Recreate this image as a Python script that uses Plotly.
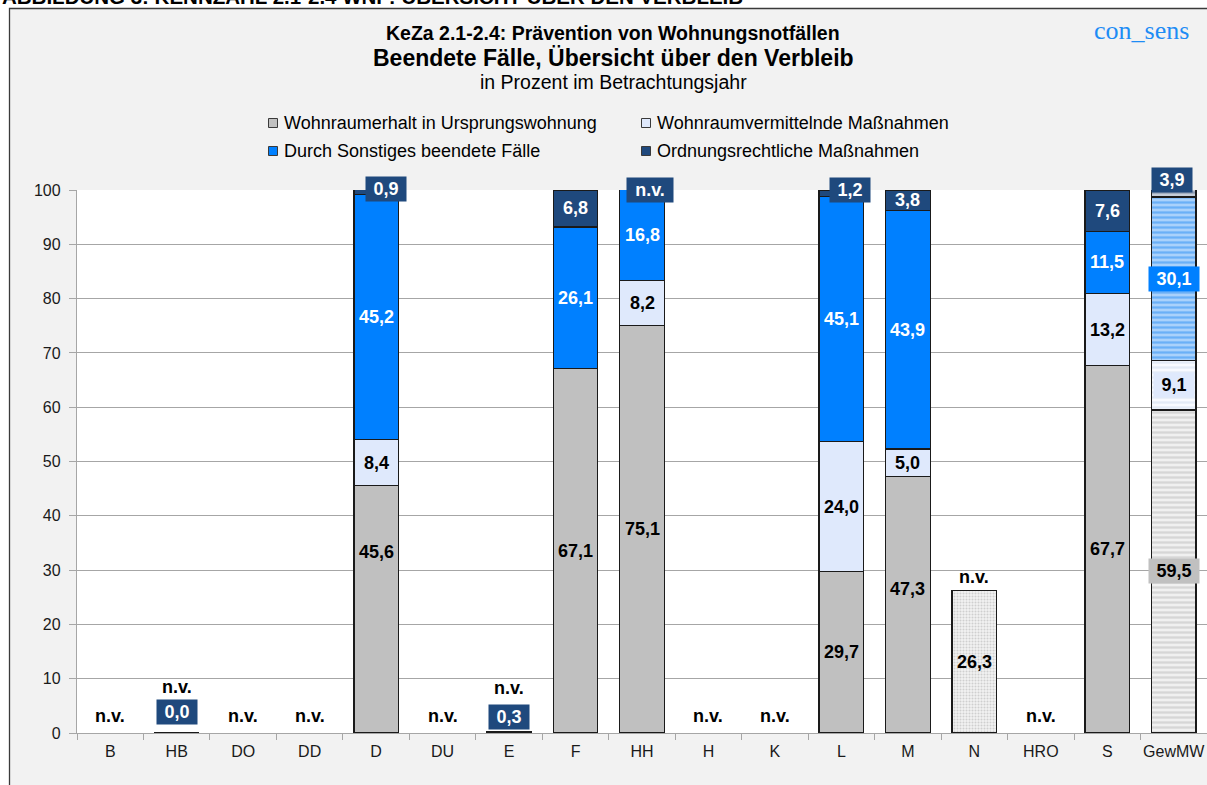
import plotly.graph_objects as go

# ---------------- data ----------------
categories = ["B", "HB", "DO", "DD", "D", "DU", "E", "F", "HH", "H", "K",
              "L", "M", "N", "HRO", "S", "GewMW"]
series_names = ["Wohnraumerhalt in Ursprungswohnung",
                "Wohnraumvermittelnde Maßnahmen",
                "Durch Sonstiges beendete Fälle",
                "Ordnungsrechtliche Maßnahmen"]
erhalt      = [None, None, None, None, 45.6, None, None, 67.1, 75.1, None, None, 29.7, 47.3, 26.3, None, 67.7, 59.5]
vermittelnd = [None, None, None, None, 8.4,  None, None, None, 8.2,  None, None, 24.0, 5.0,  None, None, 13.2, 9.1]
sonstiges   = [None, None, None, None, 45.2, None, None, 26.1, 16.8, None, None, 45.1, 43.9, None, None, 11.5, 30.1]
ordnung     = [None, 0.0,  None, None, 0.9,  None, 0.3,  6.8,  None, None, None, 1.2,  3.8,  None, None, 7.6,  3.9]
series_values = [erhalt, vermittelnd, sonstiges, ordnung]
nv_categories = ["B", "HB", "DO", "DD", "DU", "E", "H", "K", "N", "HRO"]
nv_box = [("HH", 3)]          # "n.v." shown as a box label for a series

# ---------------- styles ----------------
FONT = "Liberation Sans, Arial, sans-serif"
colors = ["#c0c0c0", "#dfe9fc", "#0080ff", "#1f497d"]
text_colors = ["#000000", "#000000", "#ffffff", "#ffffff"]
pattern_special = {
    "GewMW": dict(shape="-", size=5, solidity=0.45,
                  bg=["#f0f0f0", "#f8faff", "#a9d1fb", "#c4ccd8"],
                  fg=["#d6d6d6", "#e3eaf6", "#6ab0f7", "#8e9cb2"]),
    "N": dict(shape=".", size=3, solidity=0.35,
              bg=["#f2f2f2"] * 4, fg=["#cfcfcf"] * 4),
}
# manual label placement (y in axis units, x shift in px)
label_place = {
    ("D", 0): (33.3, 0), ("M", 0): (26.6, 0),
    ("D", 3): (100.2, 10), ("L", 3): (100.0, 9), ("GewMW", 3): (101.8, -2),
    ("HB", 3): (3.9, 0), ("E", 3): (2.9, 0), ("HH", 3): (100.0, 8),
}
boxed = {("D", 3), ("L", 3), ("GewMW", 3), ("HB", 3), ("E", 3), ("HH", 3),
         ("GewMW", 0), ("GewMW", 1), ("GewMW", 2)}
nv_place = {"HB": 8.5, "E": 8.3, "N": 28.7}
NV_DEFAULT = 3.1
Y_RANGE = (0, 100)
# legend layout (pixel positions of marker centres)
legend_slots = [(273, 123), (646, 123), (273, 151), (646, 151)]

L_M, R_M, T_M, B_M = 77, 0, 190, 52
W, H = 1207, 785
PW, PH = W - L_M - R_M, H - T_M - B_M


def px_x(px):
    return (px - L_M) / PW


def px_y(py):
    return (H - B_M - py) / PH


def val_to_paper(v):
    return (v - Y_RANGE[0]) / (Y_RANGE[1] - Y_RANGE[0])


def fmt(v):
    return f"{v:.1f}".replace(".", ",")


EM = {",": .278, ".": .278, "n": .611, "v": .556}


def box_width(t, size=18):
    return sum(EM.get(ch, .556) for ch in t) * size + 11


fig = go.Figure()
special = set(pattern_special)

# main solid traces
for s, (name, vals) in enumerate(zip(series_names, series_values)):
    y = [v if c not in special else None for c, v in zip(categories, vals)]
    fig.add_trace(go.Bar(
        x=categories, y=y, name=name, showlegend=False,
        marker=dict(color=colors[s], line=dict(color="#1a1a1a", width=1.3)),
        hoverinfo="skip"))

# patterned traces for special categories
for cat, p in pattern_special.items():
    for s, (name, vals) in enumerate(zip(series_names, series_values)):
        y = [v if c == cat else None for c, v in zip(categories, vals)]
        if all(v is None for v in y):
            continue
        fig.add_trace(go.Bar(
            x=categories, y=y, name=name, showlegend=False,
            marker=dict(color=p["bg"][s], line=dict(color="#1a1a1a", width=1.3),
                        pattern=dict(shape=p["shape"], size=p["size"],
                                     solidity=p["solidity"], fillmode="replace",
                                     bgcolor=p["bg"][s], fgcolor=p["fg"][s])),
            hoverinfo="skip"))

annotations = []
# value labels
for i, c in enumerate(categories):
    base = 0.0
    for s in range(4):
        v = series_values[s][i]
        if v is None:
            continue
        y, dx = label_place.get((c, s), (base + v / 2, 0))
        t = fmt(v)
        a = dict(x=c, y=val_to_paper(y), xref="x", yref="paper",
                 xanchor="center", yanchor="middle",
                 text=f"<b>{t}</b>", showarrow=False, xshift=dx,
                 font=dict(family=FONT, size=18, color=text_colors[s]))
        if (c, s) in boxed:
            a.update(bgcolor=colors[s], borderpad=2, width=box_width(t))
        annotations.append(a)
        base += v
# n.v. box labels
for c, s in nv_box:
    y, dx = label_place[(c, s)]
    annotations.append(dict(
        x=c, y=val_to_paper(y), xref="x", yref="paper", xanchor="center",
        yanchor="middle", text="<b>n.v.</b>", showarrow=False, xshift=dx,
        font=dict(family=FONT, size=18, color=text_colors[s]),
        bgcolor=colors[s], borderpad=2, width=box_width("n.v.")))
# plain n.v. labels
for c in nv_categories:
    annotations.append(dict(
        x=c, y=val_to_paper(nv_place.get(c, NV_DEFAULT)), xref="x", yref="paper",
        xanchor="center", yanchor="middle",
        text="<b>n.v.</b>", showarrow=False,
        font=dict(family=FONT, size=18, color="#000000")))

# titles
annotations += [
    dict(x=px_x(0), y=px_y(-4), xref="paper", yref="paper", xanchor="left",
         yanchor="middle", showarrow=False,
         text="<b>ABBILDUNG 3: KENNZAHL 2.1-2.4 WNF: ÜBERSICHT ÜBER DEN VERBLEIB</b>",
         font=dict(family=FONT, size=20.5, color="#000000")),
    dict(x=px_x(613), y=px_y(33), xref="paper", yref="paper", showarrow=False,
         xanchor="center", yanchor="middle",
         text="<b>KeZa 2.1-2.4: Prävention von Wohnungsnotfällen</b>",
         font=dict(family=FONT, size=19.5, color="#000000")),
    dict(x=px_x(613), y=px_y(58), xref="paper", yref="paper", showarrow=False,
         xanchor="center", yanchor="middle",
         text="<b>Beendete Fälle, Übersicht über den Verbleib</b>",
         font=dict(family=FONT, size=23, color="#000000")),
    dict(x=px_x(613), y=px_y(82), xref="paper", yref="paper", showarrow=False,
         xanchor="center", yanchor="middle", text="in Prozent im Betrachtungsjahr",
         font=dict(family=FONT, size=19.5, color="#000000")),
    dict(x=px_x(1191), y=px_y(30), xref="paper", yref="paper", showarrow=False,
         xanchor="right", yanchor="middle", text="con_sens",
         font=dict(family="Liberation Serif, Times New Roman, serif", size=26,
                   color="#1e8cf5")),
]

shapes = [
    dict(type="rect", xref="paper", yref="paper", layer="below",
         x0=px_x(-5), x1=px_x(9.5), y0=px_y(H + 10), y1=px_y(-5),
         fillcolor="#ffffff", line=dict(width=0)),
    dict(type="rect", xref="paper", yref="paper", layer="below",
         x0=px_x(-5), x1=px_x(W + 10), y0=px_y(8.5), y1=px_y(-5),
         fillcolor="#ffffff", line=dict(width=0)),
    dict(type="rect", xref="paper", yref="paper", layer="below",
         x0=px_x(9.5), x1=px_x(W + 20), y0=px_y(H + 20), y1=px_y(8.5),
         fillcolor="rgba(0,0,0,0)", line=dict(color="#3a3a3a", width=1.3)),
]

# legend (markers + texts)
for s, (name, (cx, cy)) in enumerate(zip(series_names, legend_slots)):
    shapes.append(dict(type="rect", xref="paper", yref="paper", layer="above",
                       x0=px_x(cx - 4.5), x1=px_x(cx + 4.5),
                       y0=px_y(cy + 4.5), y1=px_y(cy - 4.5),
                       fillcolor=colors[s], line=dict(color="#3a3a3a", width=1)))
    annotations.append(dict(x=px_x(cx + 9), y=px_y(cy), xref="paper", yref="paper",
                            xanchor="left", yanchor="middle", showarrow=False,
                            text=name,
                            font=dict(family=FONT, size=18, color="#000000")))

fig.update_layout(
    width=W, height=H, autosize=False,
    margin=dict(l=L_M, r=R_M, t=T_M, b=B_M, pad=0),
    paper_bgcolor="#f2f2f2", plot_bgcolor="#ffffff",
    barmode="stack", bargap=0.33,
    font=dict(family=FONT, size=16, color="#1a1a1a"),
    showlegend=False,
    annotations=annotations, shapes=shapes,
)
fig.update_xaxes(type="category", categoryorder="array", categoryarray=categories,
                 range=[-0.5, len(categories) - 0.5], showgrid=False,
                 showline=True, linecolor="#a6a6a6", linewidth=1.3,
                 ticks="outside", tickson="boundaries", ticklen=6, tickangle=0,
                 tickcolor="#a6a6a6", tickwidth=1.3, ticklabelstandoff=4,
                 tickfont=dict(family=FONT, size=16, color="#1a1a1a"),
                 fixedrange=True)
fig.update_yaxes(range=list(Y_RANGE), dtick=10, showgrid=True, gridcolor="#a6a6a6",
                 gridwidth=1.3, zeroline=False, showline=True, linecolor="#a6a6a6",
                 linewidth=1.3, ticks="outside", ticklen=7, tickcolor="#a6a6a6",
                 tickwidth=1.3, ticklabelstandoff=5,
                 tickfont=dict(family=FONT, size=16, color="#1a1a1a"),
                 fixedrange=True)

fig.write_html(
    "out.html", config={"displayModeBar": False},
    post_script=("document.documentElement.style.margin='0';"
                 "document.body.style.margin='0';"
                 "document.documentElement.style.overflow='hidden';"
                 "document.body.style.overflow='hidden';"))
